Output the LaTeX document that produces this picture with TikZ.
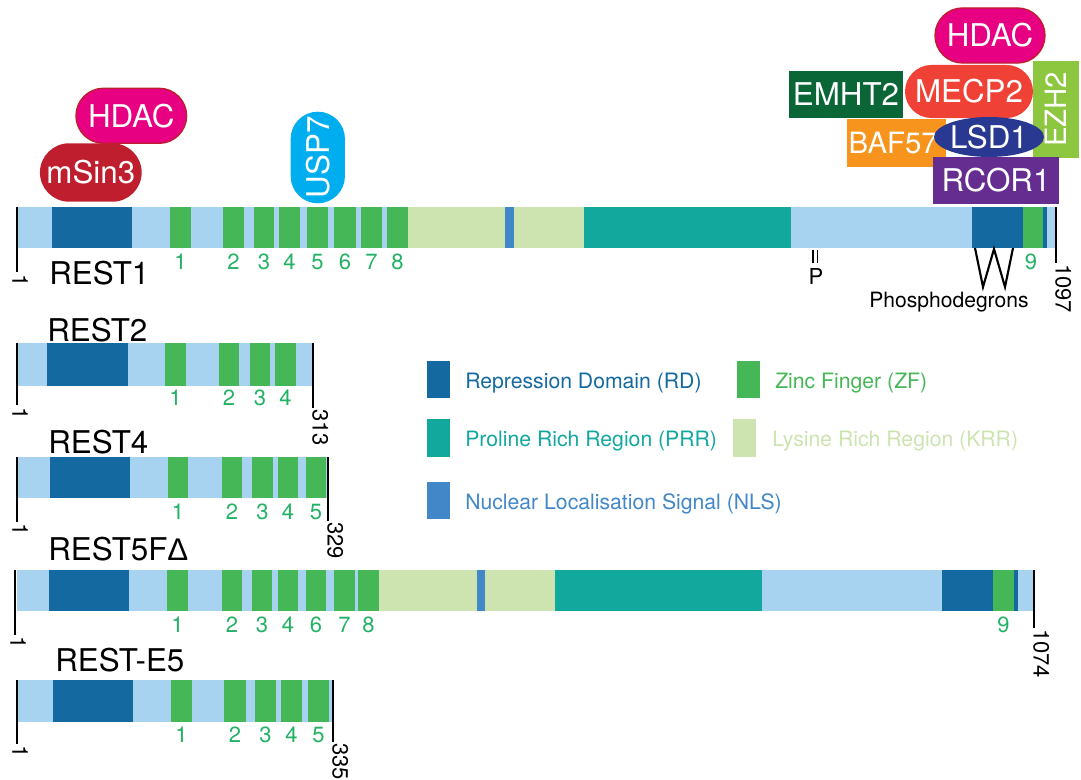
\documentclass[tikz,border=0pt]{standalone}
\usepackage{fontspec}
\setmainfont{TeX Gyre Heros}
\newfontfamily\deltafont{Liberation Sans}
\usetikzlibrary{shapes.misc,shapes.geometric}
\definecolor{baseblue}{RGB}{168,211,240}
\definecolor{rdblue}{RGB}{20,106,160}
\definecolor{zfgreen}{RGB}{70,183,87}
\definecolor{krrgreen}{RGB}{205,227,176}
\definecolor{nlsblue}{RGB}{66,135,199}
\definecolor{prrteal}{RGB}{19,168,158}
\definecolor{zftext}{RGB}{34,178,100}
\definecolor{hdacpink}{RGB}{232,0,130}
\definecolor{hdacrim}{RGB}{190,30,45}
\definecolor{msinred}{RGB}{190,30,45}
\definecolor{uspcyan}{RGB}{0,174,239}
\definecolor{emhtgreen}{RGB}{11,102,55}
\definecolor{mecpred}{RGB}{239,65,54}
\definecolor{ezhgreen}{RGB}{141,198,63}
\definecolor{baforange}{RGB}{247,148,29}
\definecolor{lsdblue}{RGB}{41,56,144}
\definecolor{rcorpurple}{RGB}{102,45,145}
\tikzstyle{every node}=[inner sep=0pt]
\tikzstyle{partner}=[text=white,font=\fontsize{23.5}{27}\selectfont]
\tikzstyle{pill}=[partner,rounded rectangle]
\tikzstyle{plate}=[partner,rectangle]
\tikzstyle{segbase}=[fill=baseblue]
\tikzstyle{segrd}=[fill=rdblue]
\tikzstyle{segzf}=[fill=zfgreen]
\tikzstyle{segkrr}=[fill=krrgreen]
\tikzstyle{segnls}=[fill=nlsblue]
\tikzstyle{segprr}=[fill=prrteal]
\tikzstyle{zfnum}=[text=zftext,font=\fontsize{16.5}{19}\selectfont]
\tikzstyle{endnum}=[rotate=-90,anchor=south west,font=\fontsize{16.5}{19}\selectfont]
\tikzstyle{isoform}=[anchor=base west,font=\fontsize{23.5}{28}\selectfont]
\tikzstyle{tick}=[line width=1.6pt]
\tikzstyle{swatch}=[minimum width=17.3pt,minimum height=27.8pt]
\tikzstyle{legtext}=[anchor=base west,font=\fontsize{15.9}{19}\selectfont]

\begin{document}
\begin{tikzpicture}[x=0.75pt,y=-0.75pt]
\useasboundingbox (0,0) rectangle (1081,780);

\node[pill,fill=hdacpink,draw=hdacrim,line width=1pt,minimum width=83pt,minimum height=41.3pt] (hdacleft) at (131.3,115.8) {HDAC};
\node[pill,fill=msinred,minimum width=76.3pt,minimum height=43.8pt] (msin) at (90.8,172.5) {mSin3};
\node[pill,fill=uspcyan,rotate=90,minimum width=68.7pt,minimum height=40.7pt] (usp) at (317.8,157.5) {USP7};

\node[pill,fill=hdacpink,draw=hdacrim,line width=1pt,minimum width=82.5pt,minimum height=41.3pt] (hdacright) at (990,35.5) {HDAC};
\node[pill,fill=mecpred,minimum width=96pt,minimum height=39.8pt] (mecp) at (969,91.5) {MECP2};
\node[plate,fill=emhtgreen,minimum width=85.5pt,minimum height=35.3pt] (emht) at (846,94.5) {EMHT2};
\node[plate,fill=ezhgreen,rotate=90,minimum width=72.8pt,minimum height=34.5pt,font=\fontsize{22}{26}\selectfont] (ezh) at (1056,109.5) {EZH2};
\node[plate,fill=baforange,minimum width=74.3pt,minimum height=36pt,font=\fontsize{22}{26}\selectfont] (baf) at (896.5,143) {BAF57\hspace*{5pt}};
\node[plate,fill=rcorpurple,minimum width=94.5pt,minimum height=35.3pt] (rcor) at (996,180.5) {RCOR1};
\node[partner,ellipse,fill=lsdblue,minimum width=66pt,minimum height=30pt] (lsd) at (989,137) {LSD1};

\fill[segbase] (17,207) rectangle (1055,248);
\fill[segrd] (52,207) rectangle (132,248);
\fill[segzf] (170,207) rectangle (191,248);
\fill[segzf] (223,207) rectangle (244,248);
\fill[segzf] (254,207) rectangle (274,248);
\fill[segzf] (279,207) rectangle (300,248);
\fill[segzf] (307,207) rectangle (328,248);
\fill[segzf] (334,207) rectangle (356,248);
\fill[segzf] (361,207) rectangle (382,248);
\fill[segzf] (387,207) rectangle (408,248);
\fill[segkrr] (408,207) rectangle (584,248);
\fill[segnls] (505,207) rectangle (514,248);
\fill[segprr] (584,207) rectangle (791,248);
\fill[segrd] (972,207) rectangle (1023,248);
\fill[segzf] (1023,207) rectangle (1043,248);
\fill[segrd] (1043,207) rectangle (1047,248);
\draw[tick] (17,207) -- (17,272);
\draw[tick] (1056,207) -- (1056,263);
\node[endnum] (r1first) at (12,274) {1};
\node[endnum] (r1last) at (1055,264) {1097};
\node[isoform] (r1name) at (49,285) {REST1};
\node[zfnum] (r1zf1) at (180.5,262) {1};
\node[zfnum] (r1zf2) at (233.5,262) {2};
\node[zfnum] (r1zf3) at (264,262) {3};
\node[zfnum] (r1zf4) at (289.5,262) {4};
\node[zfnum] (r1zf5) at (317.5,262) {5};
\node[zfnum] (r1zf6) at (345,262) {6};
\node[zfnum] (r1zf7) at (371.5,262) {7};
\node[zfnum] (r1zf8) at (397.5,262) {8};
\node[zfnum] (r1zf9) at (1031,262) {9};
\draw[line width=1pt] (813,250) -- (813,263) (817.5,250) -- (817.5,263);
\node[anchor=base,font=\fontsize{16.5}{19}\selectfont] (phos) at (816,285) {P};
\draw[tick] (975,248) -- (983,287) -- (994,249) -- (1005,287) -- (1013,248);
\node[anchor=base,font=\fontsize{15.8}{19}\selectfont] (degrons) at (949,308) {Phosphodegrons};

\fill[segbase] (17,343) rectangle (313,386);
\fill[segrd] (47,343) rectangle (128,386);
\fill[segzf] (165,343) rectangle (186,386);
\fill[segzf] (219,343) rectangle (239,386);
\fill[segzf] (250,343) rectangle (270,386);
\fill[segzf] (275,343) rectangle (296,386);
\draw[tick] (17,343) -- (17,405);
\draw[tick] (313,343) -- (313,408);
\node[endnum] (r2first) at (12,407) {1};
\node[endnum] (r2last) at (312,409) {313};
\node[isoform] (r2name) at (47,342) {REST2};
\node[zfnum] (r2zf1) at (175.5,398) {1};
\node[zfnum] (r2zf2) at (229,398) {2};
\node[zfnum] (r2zf3) at (260,398) {3};
\node[zfnum] (r2zf4) at (285.5,398) {4};

\fill[segbase] (17,457) rectangle (328,498);
\fill[segrd] (50,457) rectangle (130,498);
\fill[segzf] (168,457) rectangle (188,498);
\fill[segzf] (222,457) rectangle (242,498);
\fill[segzf] (252,457) rectangle (273,498);
\fill[segzf] (278,457) rectangle (298,498);
\fill[segzf] (306,457) rectangle (326,498);
\draw[tick] (17,457) -- (17,522);
\draw[tick] (328,457) -- (328,521);
\node[endnum] (r4first) at (12,523) {1};
\node[endnum] (r4last) at (327,522) {329};
\node[isoform] (r4name) at (48,453) {REST4};
\node[zfnum] (r4zf1) at (178,511.7) {1};
\node[zfnum] (r4zf2) at (232,511.7) {2};
\node[zfnum] (r4zf3) at (262.5,511.7) {3};
\node[zfnum] (r4zf4) at (288,511.7) {4};
\node[zfnum] (r4zf5) at (316,511.7) {5};

\fill[segbase] (17,570) rectangle (1033,611);
\fill[segrd] (49,570) rectangle (129,611);
\fill[segzf] (167,570) rectangle (188,611);
\fill[segzf] (222,570) rectangle (242,611);
\fill[segzf] (252,570) rectangle (272,611);
\fill[segzf] (278,570) rectangle (298,611);
\fill[segzf] (306,570) rectangle (326,611);
\fill[segzf] (334,570) rectangle (355,611);
\fill[segzf] (358,570) rectangle (379,611);
\fill[segkrr] (379,570) rectangle (555,611);
\fill[segnls] (477,570) rectangle (485,611);
\fill[segprr] (555,570) rectangle (762,611);
\fill[segrd] (942,570) rectangle (993,611);
\fill[segzf] (993,570) rectangle (1014,611);
\fill[segrd] (1014,570) rectangle (1018,611);
\draw[tick] (15,570) -- (15,635);
\draw[tick] (1034,570) -- (1034,628);
\node[endnum] (r5first) at (10,636) {1};
\node[endnum] (r5last) at (1033,629) {1074};
\node[isoform] (r5name) at (48,560) {REST5F{\deltafont Δ}};
\node[zfnum] (r5zf1) at (177.5,625) {1};
\node[zfnum] (r5zf2) at (232,625) {2};
\node[zfnum] (r5zf3) at (262,625) {3};
\node[zfnum] (r5zf4) at (288,625) {4};
\node[zfnum] (r5zf6) at (316,625) {6};
\node[zfnum] (r5zf7) at (344.5,625) {7};
\node[zfnum] (r5zf8) at (368.5,625) {8};
\node[zfnum] (r5zf9) at (1003.5,625) {9};

\fill[segbase] (17,680) rectangle (333,722);
\fill[segrd] (53,680) rectangle (133,722);
\fill[segzf] (171,680) rectangle (192,722);
\fill[segzf] (224,680) rectangle (246,722);
\fill[segzf] (255,680) rectangle (276,722);
\fill[segzf] (281,680) rectangle (302,722);
\fill[segzf] (308,680) rectangle (329,722);
\draw[tick] (17,680) -- (17,744);
\draw[tick] (333,680) -- (333,742);
\node[endnum] (e5first) at (12,745) {1};
\node[endnum] (e5last) at (332,743) {335};
\node[isoform] (e5name) at (55,671) {REST-E5};
\node[zfnum] (e5zf1) at (181.5,735) {1};
\node[zfnum] (e5zf2) at (235,735) {2};
\node[zfnum] (e5zf3) at (265.5,735) {3};
\node[zfnum] (e5zf4) at (291.5,735) {4};
\node[zfnum] (e5zf5) at (318.5,735) {5};

\node[swatch,fill=rdblue] (legrd) at (438.5,379.5) {};
\node[legtext,text=rdblue] (legrdtext) at (465,388) {Repression Domain (RD)};
\node[swatch,fill=zfgreen] (legzf) at (748.5,379.5) {};
\node[legtext,text=zfgreen] (legzftext) at (775,388) {Zinc Finger (ZF)};
\node[swatch,fill=prrteal] (legprr) at (438.5,438) {};
\node[legtext,text=prrteal] (legprrtext) at (465,446) {Proline Rich Region (PRR)};
\node[swatch,fill=krrgreen] (legkrr) at (744.5,438) {};
\node[legtext,text=krrgreen] (legkrrtext) at (772,446) {Lysine Rich Region (KRR)};
\node[swatch,fill=nlsblue] (legnls) at (438.5,500.5) {};
\node[legtext,text=nlsblue] (legnlstext) at (465,509) {Nuclear Localisation Signal (NLS)};
\end{tikzpicture}
\end{document}
